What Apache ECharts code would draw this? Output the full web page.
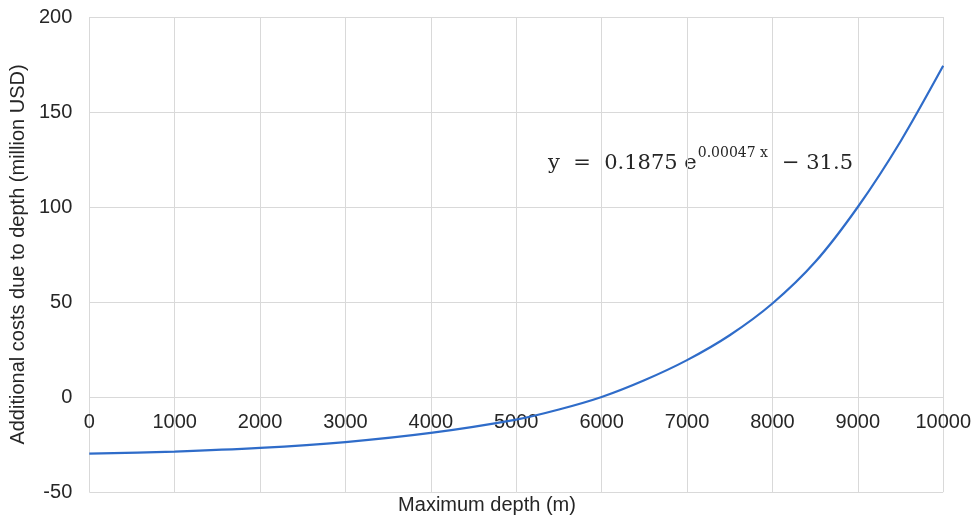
<!DOCTYPE html>
<html>
<head>
<meta charset="utf-8">
<script src="https://cdn.jsdelivr.net/npm/echarts@6/dist/echarts.min.js"></script>
<style>html,body{margin:0;padding:0;background:#fff}#c{width:974px;height:519px}</style>
</head>
<body>
<div id="c"></div>
<script>
var depths = [0,1000,2000,3000,4000,5000,5500,6000,6500,7000,7500,8000,8500,9000,9500,10000];
var costs = [-29.8,-28.7,-26.8,-23.7,-18.9,-11.9,-6.6,0,8.8,19.4,32.5,49.2,71,100,134.5,174.3];
var xTitle = 'Maximum depth (m)';
var yTitle = 'Additional costs due to depth (million USD)';

var chart = echarts.init(document.getElementById('c'));
var gridColor = '#d9d9d9';
var font = 'Liberation Sans, Arial';
chart.setOption({
  animation: false,
  title: {
    text: xTitle, left: 'center', top: 495, padding: 0,
    textStyle: {fontFamily: font, fontSize: 20, fontWeight: 'normal', color: '#262626'}
  },
  grid: {left: 89, right: 28, top: 17, bottom: 27, containLabel: false},
  xAxis: {
    type: 'value', min: 0, max: 10000, interval: 1000,
    position: 'bottom', offset: -95,
    axisLine: {show: false, onZero: false},
    axisTick: {show: false},
    axisLabel: {margin: 15, fontFamily: font, fontSize: 20, color: '#262626',
      formatter: function (v) { return String(v); }},
    splitLine: {show: true, lineStyle: {color: gridColor, width: 1}}
  },
  yAxis: {
    type: 'value', min: -50, max: 200, interval: 50,
    name: yTitle, nameLocation: 'middle', nameGap: 58, nameRotate: 90,
    nameTextStyle: {fontFamily: font, fontSize: 20, color: '#262626'},
    axisLine: {show: false},
    axisTick: {show: false},
    axisLabel: {margin: 17, fontFamily: font, fontSize: 20, color: '#262626'},
    splitLine: {show: true, lineStyle: {color: gridColor, width: 1}}
  },
  graphic: [{
    type: 'text', left: 548, top: 144,
    style: {
      text: '{m|y  =  0.1875 e}{s|0.00047 x}{m|− 31.5}',
      rich: {
        m: {fontFamily: 'DejaVu Serif, Liberation Serif', fontSize: 21, fill: '#262626', verticalAlign: 'bottom', lineHeight: 30},
        s: {fontFamily: 'DejaVu Serif, Liberation Serif', fontSize: 14, fill: '#262626', verticalAlign: 'top', lineHeight: 30, padding: [2, 14, 12, 1]}
      }
    }
  }],
  series: [{
    type: 'line', data: depths.map(function(d, i){ return [d, costs[i]]; }),
    smooth: 0.3, showSymbol: false, symbol: 'none',
    lineStyle: {color: '#2f6cc9', width: 2.2}
  }]
});
</script>
</body>
</html>
